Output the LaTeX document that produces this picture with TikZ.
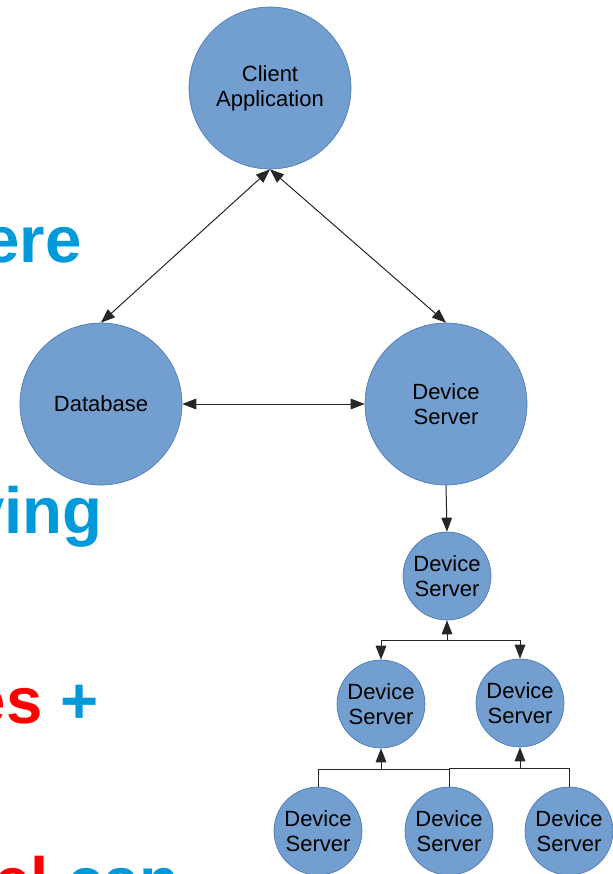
\documentclass[tikz,border=0pt]{standalone}
\usepackage{fontspec}
\setmainfont{Liberation Sans}
\usetikzlibrary{arrows.meta}

\definecolor{nodefill}{HTML}{729FCF}
\definecolor{nodeline}{HTML}{4A78B4}
\definecolor{headblue}{HTML}{0099DA}

\begin{document}
\begin{tikzpicture}[x=0.75pt, y=-0.75pt,
    >={Triangle[length=10.5pt, width=8pt]},
    big/.style={circle, fill=nodefill, draw=nodeline, line width=0.5pt,
        minimum size=121.5pt, inner sep=0pt, align=center,
        font=\fontsize{16.5}{18.5}\selectfont},
    small/.style={big, minimum size=66pt},
    link/.style={line width=0.75pt, black!85},
    head/.style={font=\fontsize{49}{52}\selectfont\bfseries, text=headblue,
        anchor=base east, inner sep=0pt}]
    \useasboundingbox (0,0) rectangle (613,874);
    \clip (0,0) rectangle (613,874);

    % cut-off slide text on the left
    \node[head] (word1) at (82,262) {ere};
    \node[head] (word2) at (103,533) {ving};
    \node[head] (word3) at (99,723) {{\color{red}es} +};
    \node[head] (word4) at (180,903) {{\color{red}el} can};

    % circles
    \node[big] (client) at (270,88) {Client\\Application};
    \node[big] (db) at (101,404) {Database};
    \node[big] (ds1) at (446,404) {Device\\Server};
    \node[small] (ds2) at (447,576) {Device\\Server};
    \node[small] (ds3) at (381,704) {Device\\Server};
    \node[small] (ds4) at (520,703) {Device\\Server};
    \node[small] (ds5) at (318,831) {Device\\Server};
    \node[small] (ds6) at (449,831) {Device\\Server};
    \node[small] (ds7) at (569,831) {Device\\Server};

    \coordinate (bus1) at (447,640);
    \coordinate (bus2) at (381,769);
    \coordinate (bus3) at (520,768);

    % connectors
    \draw[link, <->] (client.south) -- (db.north);
    \draw[link, <->] (client.south) -- (ds1.north);
    \draw[link, <->] (db.east) -- (ds1.west);
    \draw[link, ->] (ds1.south) -- (ds2.north);

    \draw[link, ->] (bus1) -- (ds2.south);
    \draw[link, ->] (bus1) -| (ds3.north);
    \draw[link, ->] (bus1) -| (ds4.north);

    \draw[link] (ds5.north) |- (ds6.north |- bus2) -- (ds6.north);
    \draw[link, ->] (bus2) -- (ds3.south);
    \draw[link] (ds6.north |- bus3) -| (ds7.north);
    \draw[link, ->] (bus3) -- (ds4.south);
\end{tikzpicture}
\end{document}
